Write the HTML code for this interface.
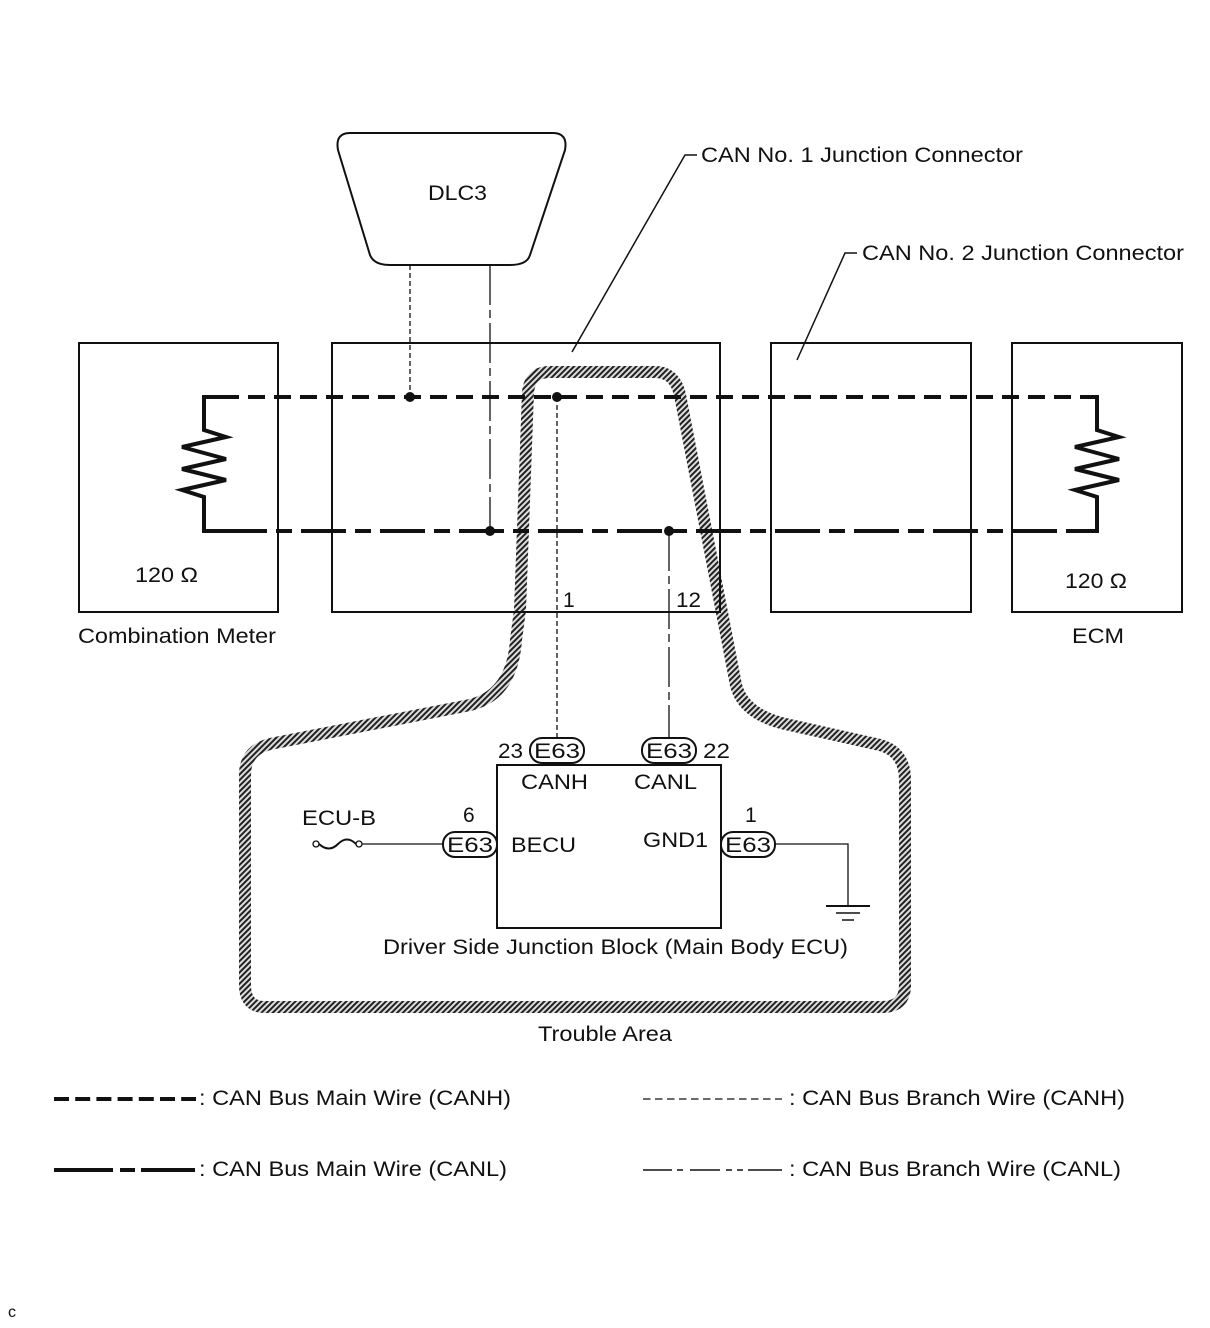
<!DOCTYPE html>
<html><head><meta charset="utf-8"><style>
html,body{margin:0;padding:0;background:#fff}
svg{display:block}
text{font-family:"Liberation Sans",Arial,sans-serif;fill:#111}
</style></head><body>
<svg width="1210" height="1328" viewBox="0 0 1210 1328" xmlns="http://www.w3.org/2000/svg">
<defs>
<pattern id="h" width="4" height="4" patternUnits="userSpaceOnUse" patternTransform="rotate(45)">
<rect width="4" height="4" fill="#ddd"/><rect width="2" height="4" fill="#222"/>
</pattern>
</defs>
<path d="M520,610 L528,392 Q530,372 550,372 L655,372 Q675,372 680,395 L735,680 Q740,715 790,725 L880,745 Q905,752 905,780 L905,985 Q905,1007 882,1007 L265,1007 Q245,1007 245,985 L245,775 Q245,748 275,743 L470,705 Q512,695 516,640 Z" fill="none" stroke="url(#h)" stroke-width="12"/>
<g stroke="#111" fill="none">
<path d="M350,133 L553,133 Q568,133 565,150 L530,255 Q527,265 510,265 L390,265 Q374,265 370,255 L338,150 Q335,133 350,133 Z" stroke-width="2"/>
<rect x="79" y="343" width="199" height="269" stroke-width="2"/>
<rect x="332" y="343" width="388" height="269" stroke-width="2"/>
<rect x="771" y="343" width="200" height="269" stroke-width="2"/>
<rect x="1012" y="343" width="170" height="269" stroke-width="2"/>
<path d="M572,352 L685,155 L697,155" stroke-width="1.5"/>
<path d="M797,360 L845,253 L857,253" stroke-width="1.5"/>
<path d="M222,397 L204,397 L204,430 L226,437 L182,447 L226,459 L182,469 L226,480 L182,490 L204,497 L204,531 L222,531" stroke-width="4"/>
<path d="M1080,397 L1097,397 L1097,430 L1119,437 L1075,447 L1119,459 L1075,469 L1119,480 L1075,490 L1097,497 L1097,531 L1080,531" stroke-width="4"/>
<line x1="222" y1="397" x2="1080" y2="397" stroke-width="4" stroke-dasharray="17 9"/>
<line x1="222" y1="531" x2="1080" y2="531" stroke-width="4" stroke-dasharray="45 9 16 9"/>
<line x1="410" y1="265" x2="410" y2="397" stroke-width="1.3" stroke-dasharray="5 3"/>
<line x1="490" y1="265" x2="490" y2="531" stroke-width="1.3" stroke-dasharray="40 5 8 5"/>
<line x1="557" y1="397" x2="557" y2="738" stroke-width="1.3" stroke-dasharray="5 3"/>
<line x1="669" y1="531" x2="669" y2="738" stroke-width="1.3" stroke-dasharray="40 5 8 5"/>
<rect x="497" y="765" width="224" height="163" stroke-width="2"/>
<rect x="530" y="738" width="54" height="25" rx="12" stroke-width="2"/>
<rect x="642" y="738" width="54" height="25" rx="12" stroke-width="2"/>
<rect x="443" y="832" width="54" height="25" rx="12" stroke-width="2"/>
<rect x="721" y="832" width="54" height="25" rx="12" stroke-width="2"/>
<circle cx="316" cy="844" r="3" stroke-width="1.3"/>
<circle cx="359" cy="844" r="3" stroke-width="1.3"/>
<path d="M319,844 Q329,853 338,844 Q347,835 356,844" stroke-width="2"/>
<line x1="362" y1="844" x2="443" y2="844" stroke-width="1.3"/>
<path d="M775,844 L848,844 L848,906" stroke-width="1.3"/>
<line x1="826" y1="906" x2="870" y2="906" stroke-width="2"/>
<line x1="836" y1="913" x2="860" y2="913" stroke-width="1.5"/>
<line x1="842" y1="920" x2="854" y2="920" stroke-width="1.5"/>
<!-- legend -->
<line x1="54" y1="1099" x2="196" y2="1099" stroke-width="4" stroke-dasharray="15 6.2"/>
<path d="M54,1170 L113,1170 M120,1170 L135,1170 M141,1170 L195,1170" stroke-width="4"/>
<line x1="643" y1="1099" x2="782" y2="1099" stroke-width="1.3" stroke-dasharray="7.5 4.5"/>
<path d="M643,1170 L672,1170 M677,1170 L683,1170 M690,1170 L720,1170 M726,1170 L732,1170 M737,1170 L743,1170 M748,1170 L782,1170" stroke-width="1.5"/>
</g>
<g fill="#111">
<circle cx="410" cy="397" r="5"/><circle cx="557" cy="397" r="5"/>
<circle cx="490" cy="531" r="5"/><circle cx="669" cy="531" r="5"/>
</g>
<g font-size="21" lengthAdjust="spacingAndGlyphs">
<text x="428" y="200" textLength="59" lengthAdjust="spacingAndGlyphs">DLC3</text>
<text x="701" y="162" textLength="322" lengthAdjust="spacingAndGlyphs">CAN No. 1 Junction Connector</text>
<text x="862" y="260" textLength="322" lengthAdjust="spacingAndGlyphs">CAN No. 2 Junction Connector</text>
<text x="135" y="582" textLength="63" lengthAdjust="spacingAndGlyphs">120 Ω</text>
<text x="1065" y="588" textLength="62" lengthAdjust="spacingAndGlyphs">120 Ω</text>
<text x="78" y="643" textLength="198" lengthAdjust="spacingAndGlyphs">Combination Meter</text>
<text x="1072" y="643" textLength="52" lengthAdjust="spacingAndGlyphs">ECM</text>
<text x="563" y="607">1</text>
<text x="676" y="607" textLength="25" lengthAdjust="spacingAndGlyphs">12</text>
<text x="498" y="758" textLength="25" lengthAdjust="spacingAndGlyphs">23</text>
<text x="534" y="758" textLength="46" lengthAdjust="spacingAndGlyphs">E63</text>
<text x="646" y="758" textLength="46" lengthAdjust="spacingAndGlyphs">E63</text>
<text x="703" y="758" textLength="27" lengthAdjust="spacingAndGlyphs">22</text>
<text x="521" y="789" textLength="67" lengthAdjust="spacingAndGlyphs">CANH</text>
<text x="634" y="789" textLength="63" lengthAdjust="spacingAndGlyphs">CANL</text>
<text x="302" y="825" textLength="74" lengthAdjust="spacingAndGlyphs">ECU-B</text>
<text x="463" y="822">6</text>
<text x="447" y="852" textLength="46" lengthAdjust="spacingAndGlyphs">E63</text>
<text x="511" y="852" textLength="65" lengthAdjust="spacingAndGlyphs">BECU</text>
<text x="643" y="847" textLength="65" lengthAdjust="spacingAndGlyphs">GND1</text>
<text x="745" y="822">1</text>
<text x="725" y="852" textLength="46" lengthAdjust="spacingAndGlyphs">E63</text>
<text x="383" y="954" textLength="465" lengthAdjust="spacingAndGlyphs">Driver Side Junction Block (Main Body ECU)</text>
<text x="538" y="1041" textLength="134" lengthAdjust="spacingAndGlyphs">Trouble Area</text>
<text x="199" y="1105" textLength="312" lengthAdjust="spacingAndGlyphs">: CAN Bus Main Wire (CANH)</text>
<text x="199" y="1176" textLength="308" lengthAdjust="spacingAndGlyphs">: CAN Bus Main Wire (CANL)</text>
<text x="789" y="1105" textLength="336" lengthAdjust="spacingAndGlyphs">: CAN Bus Branch Wire (CANH)</text>
<text x="789" y="1176" textLength="332" lengthAdjust="spacingAndGlyphs">: CAN Bus Branch Wire (CANL)</text>
<text x="8" y="1317" font-size="16">c</text>
</g>
</svg>
</body></html>
